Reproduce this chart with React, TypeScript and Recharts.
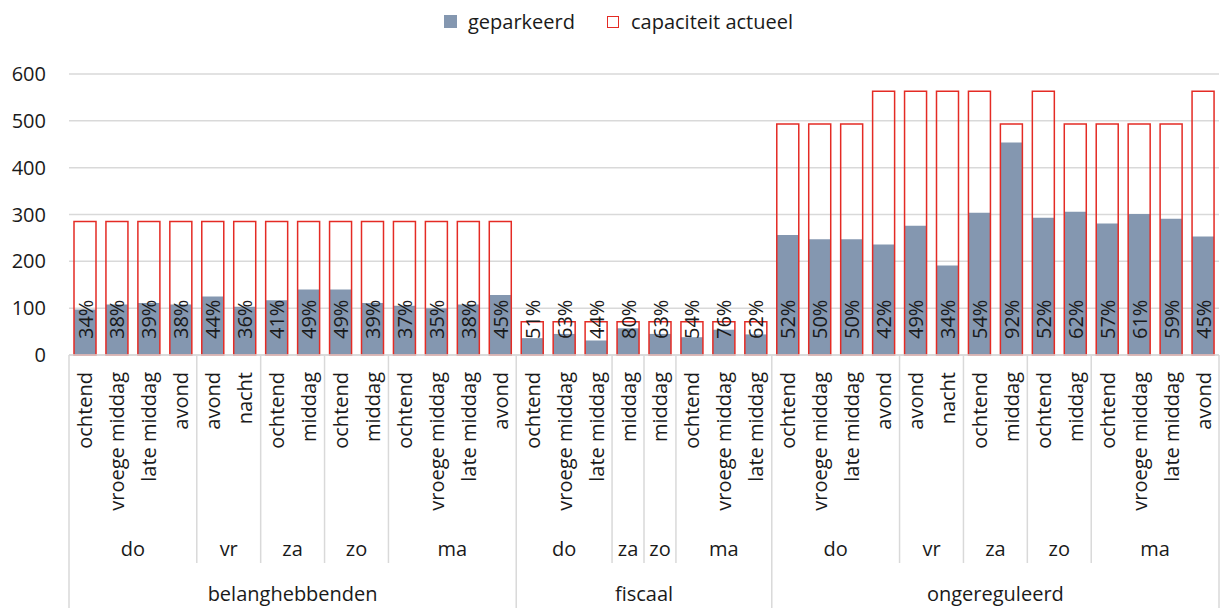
import React from 'react';
import { BarChart, Bar, XAxis, YAxis, CartesianGrid, Legend, LabelList } from 'recharts';

const timeLabels = [
  'ochtend', 'vroege middag', 'late middag', 'avond', 'avond', 'nacht', 'ochtend', 'middag', 'ochtend', 'middag', 'ochtend', 'vroege middag', 'late middag', 'avond',
  'ochtend', 'vroege middag', 'late middag', 'middag', 'middag', 'ochtend', 'vroege middag', 'late middag',
  'ochtend', 'vroege middag', 'late middag', 'avond', 'avond', 'nacht', 'ochtend', 'middag', 'ochtend', 'middag', 'ochtend', 'vroege middag', 'late middag', 'avond',
];

const dayLabels = [
  'do', 'do', 'do', 'do', 'vr', 'vr', 'za', 'za', 'zo', 'zo', 'ma', 'ma', 'ma', 'ma',
  'do', 'do', 'do', 'za', 'zo', 'ma', 'ma', 'ma',
  'do', 'do', 'do', 'do', 'vr', 'vr', 'za', 'za', 'zo', 'zo', 'ma', 'ma', 'ma', 'ma',
];

const groupLabels = [
  ...Array(14).fill('belanghebbenden'),
  ...Array(8).fill('fiscaal'),
  ...Array(14).fill('ongereguleerd'),
];

const geparkeerd = [
  97, 108, 111, 108, 125, 103, 117, 140, 140, 111, 105, 100, 108, 128,
  36, 45, 31, 57, 45, 38, 54, 44,
  256, 247, 247, 236, 276, 191, 304, 454, 293, 306, 281, 301, 291, 253,
];

const capaciteit = [
  285, 285, 285, 285, 285, 285, 285, 285, 285, 285, 285, 285, 285, 285,
  71, 71, 71, 71, 71, 71, 71, 71,
  493, 493, 493, 563, 563, 563, 563, 493, 563, 493, 493, 493, 493, 563,
];

const pctLabels = [
  '34%', '38%', '39%', '38%', '44%', '36%', '41%', '49%', '49%', '39%', '37%', '35%', '38%', '45%',
  '51%', '63%', '44%', '80%', '63%', '54%', '76%', '62%',
  '52%', '50%', '50%', '42%', '49%', '34%', '54%', '92%', '52%', '62%', '57%', '61%', '59%', '45%',
];

const yTicks = [0, 100, 200, 300, 400, 500, 600];

const data = timeLabels.map((t, i) => ({
  key: i,
  time: t,
  geparkeerd: geparkeerd[i],
  capaciteit: capaciteit[i],
  pct: pctLabels[i],
}));

const W = 1222;
const H = 608;
const LEFT = 69;
const RIGHT = 3;
const TOP = 47; // legend adds its own height on top of this
const X_AXIS_H = 253;
const FONT = '"Open Sans", sans-serif';
const GRID = '#d9d9d9';
const GRAY = '#8497b0';
const RED = '#e42b24';
const TEXT = '#1a1a1a';

const bandW = (W - LEFT - RIGHT) / data.length;

const isStart = (arr: string[], i: number) => i === 0 || arr[i] !== arr[i - 1] || groupLabels[i] !== groupLabels[i - 1];
const runLength = (arr: string[], i: number) => {
  let n = 1;
  while (i + n < arr.length && arr[i + n] === arr[i] && groupLabels[i + n] === groupLabels[i]) n++;
  return n;
};

const XTick = (props: any) => {
  const { x, y, index } = props;
  const i = index as number;
  const left = x - bandW / 2;
  const parts: React.ReactNode[] = [];
  parts.push(
    <text key="t" x={0} y={0} transform={`translate(${x},${y + 17}) rotate(-90)`} textAnchor="end"
      dominantBaseline="central" fontSize={20} fontFamily={FONT} fill={TEXT}>{timeLabels[i]}</text>
  );
  const groupStart = i === 0 || groupLabels[i] !== groupLabels[i - 1];
  if (groupStart) {
    parts.push(<line key="gs" x1={left} x2={left} y1={y} y2={H} stroke={GRID} strokeWidth={1.5} />);
    let n = 1;
    while (i + n < groupLabels.length && groupLabels[i + n] === groupLabels[i]) n++;
    parts.push(
      <text key="gl" x={left + (n * bandW) / 2} y={y + 238} textAnchor="middle" dominantBaseline="central"
        fontSize={20} fontFamily={FONT} fill={TEXT}>{groupLabels[i]}</text>
    );
  } else if (isStart(dayLabels, i)) {
    parts.push(<line key="ds" x1={left} x2={left} y1={y} y2={y + 208} stroke={GRID} strokeWidth={1.5} />);
  }
  if (isStart(dayLabels, i)) {
    const n = runLength(dayLabels, i);
    parts.push(
      <text key="dl" x={left + (n * bandW) / 2} y={y + 193} textAnchor="middle" dominantBaseline="central"
        fontSize={20} fontFamily={FONT} fill={TEXT}>{dayLabels[i]}</text>
    );
  }
  if (i === data.length - 1) {
    const r = x + bandW / 2;
    parts.push(<line key="re" x1={r} x2={r} y1={y} y2={H} stroke={GRID} strokeWidth={1.5} />);
  }
  return <g>{parts}</g>;
};

const PctLabel = (props: any) => {
  const { x, y, width, height, value } = props;
  const cx = x + width / 2;
  const bottom = y + height;
  return (
    <text x={0} y={0} transform={`translate(${cx},${bottom - 16}) rotate(-90)`} textAnchor="start"
      dominantBaseline="central" fontSize={20} fontFamily={FONT} fill={TEXT}>{value}</text>
  );
};

const LegendContent = () => (
  <div style={{ display: 'flex', alignItems: 'center', fontFamily: FONT, fontSize: 20, color: TEXT, marginLeft: 444 }}>
    <span style={{ width: 13, height: 13, background: GRAY, display: 'inline-block', marginRight: 11 }} />
    <span style={{ marginRight: 32 }}>geparkeerd</span>
    <span style={{ width: 10, height: 10, border: `1.5px solid ${RED}`, display: 'inline-block', marginRight: 12 }} />
    <span>capaciteit actueel</span>
  </div>
);

export default function App() {
  return (
    <div style={{ position: 'absolute', left: 0, top: 0, width: W, height: H, background: '#fff' }}>
      <BarChart width={W} height={H} data={data} margin={{ top: TOP, right: RIGHT, left: 0, bottom: 0 }}
        barSize={22} barGap={-22} style={{ fontFamily: FONT }}>
        <Legend verticalAlign="top" content={LegendContent} wrapperStyle={{ top: 8, left: 0, width: W }} />
        <CartesianGrid vertical={false} stroke={GRID} strokeWidth={1.5} />
        <XAxis dataKey="key" interval={0} height={X_AXIS_H} tickSize={0} tickMargin={0} tick={<XTick />}
          axisLine={{ stroke: GRID, strokeWidth: 1.5 }} tickLine={false} />
        <YAxis width={LEFT} domain={[0, 600]} ticks={yTicks} axisLine={false} tickLine={false} tickSize={0}
          tickMargin={23} tick={{ fontSize: 20, fill: TEXT, fontFamily: FONT }} />
        <Bar dataKey="geparkeerd" name="geparkeerd" fill={GRAY} isAnimationActive={false} />
        <Bar dataKey="capaciteit" name="capaciteit actueel" fill="none" stroke={RED} strokeWidth={1.5} isAnimationActive={false}>
          <LabelList dataKey="pct" content={<PctLabel />} />
        </Bar>
      </BarChart>
    </div>
  );
}
